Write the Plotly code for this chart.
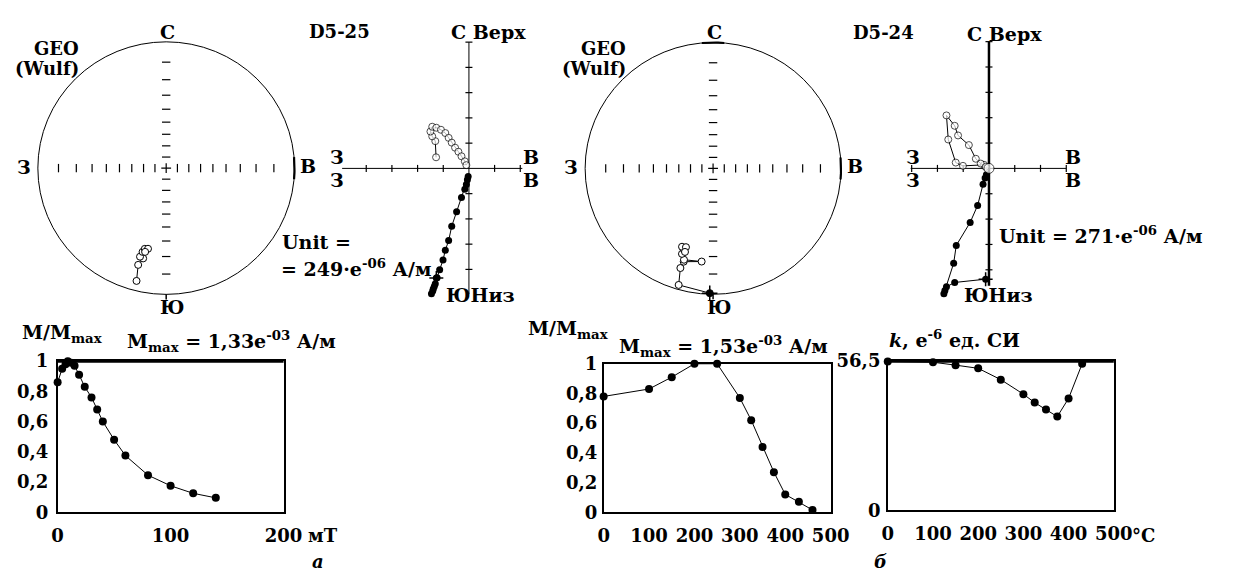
import numpy as np
import plotly.graph_objects as go

W, H = 1234, 581
FONT = "DejaVu Serif"

# ---------------- D5-25 ----------------
# directions on the Wulff net (geographic system); negative inclination = upper hemisphere
d525_dec = [194.5, 195.9, 194.1, 196.2, 195.5, 194.6, 192.5, 193.9]
d525_inc = [-4.6, -12.9, -17.2, -17.7, -20.9, -23.1, -23.6, -21.3]
# Zijderveld components, in units of 249e-06 A/m
d525_hor_e = [-1.27, -1.35, -1.41, -1.46, -1.39, -1.31, -1.24, -1.14, -1.01, -0.92,
              -0.79, -0.67, -0.48, -0.29, -0.16, -0.10, -0.06, -0.03]
d525_hor_n = [-4.34, -4.68, -4.85, -4.96, -4.78, -4.57, -4.33, -4.01, -3.63, -3.24,
              -2.86, -2.29, -1.72, -1.15, -0.83, -0.64, -0.45, -0.32]
d525_ver_e = [-1.28, -1.31, -1.43, -1.50, -1.43, -1.27, -1.09, -0.92, -0.79, -0.67,
              -0.54, -0.41, -0.29, -0.16, -0.10]
d525_ver_up = [0.44, 1.08, 1.27, 1.46, 1.65, 1.61, 1.53, 1.40, 1.21, 1.02,
               0.82, 0.66, 0.48, 0.28, 0.13]
# alternating-field demagnetization, mT
af_field = [0, 4, 7, 9, 12, 15, 19, 24, 30, 35, 40, 50, 60, 80, 100, 120, 140]
af_m = [0.86, 0.95, 0.98, 1.0, 0.99, 0.97, 0.91, 0.83, 0.76, 0.68, 0.60, 0.48,
        0.375, 0.245, 0.175, 0.125, 0.095]

# ---------------- D5-24 ----------------
d524_dec = [181.5, 196.2, 197.9, 197.2, 186.9, 197.4, 199.7, 199.7, 201.3, 198.7, 198.3]
d524_inc = [0.5, -2.1, -10.5, -14.4, -16.6, -15.5, -18.4, -21.5, -22.5, -23.1, -20.1]
# Zijderveld components, in units of 271e-06 A/m
d524_hor_e = [-0.13, -1.33, -1.65, -1.71, -1.75, -1.37, -1.27, -0.73, -0.44, -0.23, -0.15, -0.10]
d524_hor_n = [-4.37, -4.50, -4.67, -4.82, -4.94, -3.74, -3.04, -2.13, -1.46, -0.63, -0.38, -0.25]
d524_ver_e = [-0.19, -1.01, -1.29, -1.58, -1.65, -1.33, -1.20, -0.78, -0.51, -0.32, -0.13, 0.0]
d524_ver_up = [0.14, 0.10, 0.23, 1.14, 2.09, 1.68, 1.30, 0.92, 0.38, 0.19, 0.06, 0.0]
# thermal demagnetization, deg C
th_temp = [0, 100, 150, 200, 250, 300, 325, 350, 375, 400, 430, 460]
th_m = [0.78, 0.83, 0.91, 1.0, 1.0, 0.77, 0.62, 0.44, 0.27, 0.12, 0.07, 0.015]
# magnetic susceptibility after heating, 1e-6 SI
k_temp = [0, 100, 150, 200, 250, 300, 325, 350, 375, 400, 430]
k_val = [56.4, 56.1, 55.0, 53.8, 49.5, 44.0, 40.8, 38.2, 35.5, 42.4, 55.5]

# tick labels of the demagnetization plots
af_xticks = [0, 100, 200]
th_xticks = [0, 100, 200, 300, 400, 500]
m_yticks = [0, 0.2, 0.4, 0.6, 0.8, 1.0]
m_yticktext = ["0", "0,2", "0,4", "0,6", "0,8", "1"]
k_yticks = [0, 56.5]
k_yticktext = ["0", "56,5"]
wulff_ticks = list(range(10, 90, 10))  # inclination marks on the net axes


def xdom(a, b):
    return [a / W, b / W]


def ydom(top, bottom):
    return [1 - bottom / H, 1 - top / H]


def px(x):
    return x / W


def py(y):
    return 1 - y / H


def wulff(dec, inc):
    d = np.radians(np.asarray(dec, float))
    i = np.abs(np.asarray(inc, float))
    r = np.tan(np.radians(90 - i) / 2)
    return r * np.sin(d), r * np.cos(d)


fig = go.Figure()
layout = dict(
    width=W, height=H, margin=dict(l=0, r=0, t=0, b=0),
    paper_bgcolor="white", plot_bgcolor="white", showlegend=False,
    font=dict(family=FONT, size=18, color="black", weight="bold"),
    shapes=[], annotations=[],
)


def hidden(domain, rng, anchor):
    return dict(domain=domain, range=rng, visible=False, fixedrange=True,
                showgrid=False, zeroline=False, anchor=anchor)


def line_tr(x, y, ax, width=1.0):
    fig.add_trace(go.Scatter(x=x, y=y, mode="lines", xaxis=ax[0], yaxis=ax[1],
                             line=dict(color="black", width=width),
                             hoverinfo="skip", cliponaxis=False))


def marks(x, y, ax, symbol, size, width=1.0):
    fig.add_trace(go.Scatter(x=x, y=y, mode="markers", xaxis=ax[0], yaxis=ax[1],
                             marker=dict(symbol=symbol, size=size, color="black",
                                         line=dict(color="black", width=width)),
                             hoverinfo="skip", cliponaxis=False))


def ann(text, x, y, size=19, xanchor="center", yanchor="middle"):
    layout["annotations"].append(dict(
        text=text, x=px(x), y=py(y), xref="paper", yref="paper",
        xanchor=xanchor, yanchor=yanchor, showarrow=False, borderpad=0,
        font=dict(family=FONT, size=size, color="black", weight="bold")))


# ---------------- stereonets ----------------
def stereonet(n, cx, cy, R, dec, inc, cross_first=False, north_mark=False):
    hs = 140
    xa, ya = f"xaxis{n}", f"yaxis{n}"
    layout[xa] = hidden(xdom(cx - hs, cx + hs), [-hs / R, hs / R], f"y{n}")
    layout[ya] = hidden(ydom(cy - hs, cy + hs), [-hs / R, hs / R], f"x{n}")
    ax = (f"x{n}", f"y{n}")
    layout["shapes"].append(dict(type="circle", xref=ax[0], yref=ax[1],
                                 x0=-1, y0=-1, x1=1, y1=1,
                                 line=dict(color="black", width=1)))
    # thicker arcs at the cardinal points
    for az in ([90, 0] if north_mark else [90]):
        a = np.radians(np.linspace(az - 5, az + 5, 12))
        line_tr(np.sin(a), np.cos(a), ax, width=2.2)
    line_tr([0, 0], [-1, -1.04], ax, width=1.5)
    r = np.tan(np.radians(90 - np.array(wulff_ticks)) / 2)
    rr = np.concatenate([r, -r])
    marks(rr, np.zeros_like(rr), ax, "line-ns", 6, 1.2)
    marks(np.zeros_like(rr), rr, ax, "line-ew", 6, 1.2)
    marks([0], [0], ax, "cross-thin", 7, 1.2)
    x, y = wulff(dec, inc)
    fill = ["black" if i >= 0 else "white" for i in inc]
    fig.add_trace(go.Scatter(x=x, y=y, mode="lines+markers", xaxis=ax[0], yaxis=ax[1],
                             line=dict(color="black", width=1),
                             marker=dict(symbol="circle", size=7, color=fill,
                                         line=dict(color="black", width=1)),
                             hoverinfo="skip", cliponaxis=False))
    if cross_first:
        marks(x[:1], y[:1], ax, "cross-thin", 11, 1.5)


stereonet(1, 163.5, 163.0, 131.0, d525_dec, d525_inc)
stereonet(3, 721.7, 163.3, 130.6, d524_dec, d524_inc, cross_first=True, north_mark=True)


# ---------------- Zijderveld diagrams ----------------
def zijderveld(n, ox, oy, u, xlim, ylim, he, hn, ve, vu, vwidth, last_big=False):
    x0, x1, y0, y1 = ox - 150, ox + 95, 25, 305
    xa, ya = f"xaxis{n}", f"yaxis{n}"
    layout[xa] = hidden(xdom(x0, x1), [(x0 - ox) / u, (x1 - ox) / u], f"y{n}")
    layout[ya] = hidden(ydom(y0, y1), [(oy - y1) / u, (oy - y0) / u], f"x{n}")
    ax = (f"x{n}", f"y{n}")
    line_tr(list(xlim), [0, 0], ax, width=1.0)
    line_tr([0, 0], list(ylim), ax, width=vwidth)
    tx = [t for t in range(int(np.ceil(xlim[0])), int(np.floor(xlim[1])) + 1) if t != 0]
    ty = [t for t in range(int(np.ceil(ylim[0])), int(np.floor(ylim[1])) + 1) if t != 0]
    marks(tx, [0] * len(tx), ax, "line-ns", 5, 1.2)
    marks([0] * len(ty), ty, ax, "line-ew", 5, 1.2)
    # horizontal plane projection (E, N): solid symbols
    fig.add_trace(go.Scatter(x=he, y=hn, mode="lines+markers", xaxis=ax[0], yaxis=ax[1],
                             line=dict(color="black", width=1),
                             marker=dict(symbol="circle", size=7, color="black"),
                             hoverinfo="skip", cliponaxis=False))
    # vertical plane projection (E, Up): open symbols
    sizes = [7] * len(ve)
    if last_big:
        sizes[-1] = 10
    fig.add_trace(go.Scatter(x=ve, y=vu, mode="lines+markers", xaxis=ax[0], yaxis=ax[1],
                             line=dict(color="black", width=1),
                             marker=dict(symbol="circle", size=sizes, color="white",
                                         line=dict(color="black", width=1)),
                             hoverinfo="skip", cliponaxis=False))
    marks(he[:1], hn[:1], ax, "cross-thin", 10, 1.5)


zijderveld(2, 472.5, 163.3, 26.2, (-4.94, 2.08), (-4.98, 5.0),
           d525_hor_e, d525_hor_n, d525_ver_e, d525_ver_up, 1.0)
zijderveld(4, 1003.3, 163.3, 26.3, (-3.04, 3.0), (-4.63, 5.0),
           d524_hor_e, d524_hor_n, d524_ver_e, d524_ver_up, 2.5, last_big=True)


# ---------------- demagnetization plots ----------------
def frame_axes(n, xd, yd, xr, yr, xt, yt, ytt, ystand):
    common = dict(showline=True, mirror=True, linecolor="black", linewidth=1.5,
                  showgrid=False, zeroline=False, ticks="", fixedrange=True,
                  tickfont=dict(family=FONT, size=18, color="black", weight="bold"))
    layout[f"xaxis{n}"] = dict(domain=xd, range=xr, anchor=f"y{n}", tickvals=xt,
                               ticktext=[str(v) for v in xt], ticklabelstandoff=6, **common)
    layout[f"yaxis{n}"] = dict(domain=yd, range=yr, anchor=f"x{n}", tickvals=yt,
                               ticktext=ytt, ticklabelstandoff=ystand, **common)


def curve(n, x, y):
    fig.add_trace(go.Scatter(x=x, y=y, mode="lines+markers", xaxis=f"x{n}", yaxis=f"y{n}",
                             line=dict(color="black", width=1),
                             marker=dict(symbol="circle", size=8, color="black"),
                             hoverinfo="skip", cliponaxis=False))


def thick_top(n):
    layout["shapes"].append(dict(type="line", xref=f"x{n} domain", yref=f"y{n} domain",
                                 x0=0, x1=1, y0=1, y1=1,
                                 line=dict(color="black", width=3)))


frame_axes(5, xdom(52.7, 283.3), ydom(363.3, 520), [0, 200], [0, 1],
           af_xticks, m_yticks, m_yticktext, 4)
curve(5, af_field, af_m)
thick_top(5)

frame_axes(6, xdom(610, 841.7), ydom(366, 520), [0, 500], [0, 1],
           th_xticks, m_yticks, m_yticktext, 1)
curve(6, th_temp, th_m)

frame_axes(7, xdom(900, 1130.7), ydom(363.3, 518), [0, 500], [0, 56.5],
           th_xticks, k_yticks, k_yticktext, 2)
curve(7, k_temp, k_val)
thick_top(7)

# ---------------- labels ----------------
for cx in (163.5, 721.7):
    ann("GEO", cx - 88, 39, size=18, xanchor="right")
    ann("(Wulf)", cx - 88, 60, size=18, xanchor="right")
    ann("С", cx + 1, 22)
    ann("З", cx - 145, 162)
    ann("В", cx + 145, 161)
    ann("Ю", cx + 6, 307)

ann("D5-25", 340, 21, size=18)
ann("D5-24", 896, 22, size=18)

ann("С Верх", 453, 22, xanchor="left")
ann("С Верх", 980, 24, xanchor="left")
for zx, ex in ((338, 536), (926, 1089)):
    ann("З", zx, 151)
    ann("З", zx, 175)
    ann("В", ex, 151)
    ann("В", ex, 175)
ann("ЮНиз", 448, 295, xanchor="left")
ann("ЮНиз", 977, 295, xanchor="left")

ann("Unit =", 281, 240, xanchor="left")
ann("= 249·e<sup>-06</sup> А/м", 280, 267, xanchor="left")
ann("Unit = 271·e<sup>-06</sup> А/м", 1013, 232, xanchor="left")

ann("M/M<sub>max</sub>", 15, 335, xanchor="left")
ann("M<sub>max</sub> = 1,33e<sup>-03</sup> А/м", 122, 343, xanchor="left")
ann("M/M<sub>max</sub>", 532, 330, xanchor="left")
ann("M<sub>max</sub> = 1,53e<sup>-03</sup> А/м", 625, 348, xanchor="left")
ann("<i>k</i>, e<sup>-6</sup> ед. СИ", 900, 340, xanchor="left")

ann("мТ", 307, 544, size=18, xanchor="left")
ann("°C", 1148, 544, size=18, xanchor="left")

ann("<i>а</i>", 318, 571, size=18)
ann("<i>б</i>", 893, 571, size=18)

fig.update_layout(**layout)
fig.write_html("out.html")
